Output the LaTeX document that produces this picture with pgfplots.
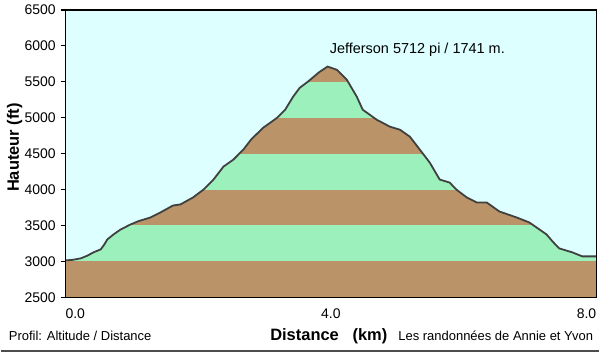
\documentclass[border=0pt]{standalone}
\usepackage{pgfplots}
\pgfplotsset{compat=1.18}
\usepackage{fontspec}
\setmainfont{Liberation Sans}
\definecolor{bgcyan}{RGB}{221,255,255}
\definecolor{bandbrown}{RGB}{187,147,104}
\definecolor{bandgreen}{RGB}{156,240,188}
\definecolor{profline}{RGB}{64,64,64}
\begin{document}
\begin{tikzpicture}
\begin{axis}[
  at={(0pt,0pt)}, anchor=south west,
  scale only axis, width=532pt, height=288pt,
  xmin=0, xmax=8, ymin=2500, ymax=6500,
  axis background/.style={fill=bgcyan},
  axis line style={black, line width=1.5pt},
  ytick={2500,3000,3500,4000,4500,5000,5500,6000,6500},
  xtick={0,4,8},
  xticklabels={\rlap{0.0},4.0,\llap{8.0}},
  ytick pos=left, xtick pos=bottom,
  tick align=outside,
  major tick length=5pt,
  x tick style={draw=none},
  y tick style={black, line width=1.2pt},
  /pgf/number format/assume math mode=true,
  /pgf/number format/1000 sep={},
  yticklabel style={font=\fontsize{14}{14}\selectfont, xshift=-1.5pt},
  xticklabel style={font=\fontsize{14}{14}\selectfont, yshift=-3pt},
  scaled ticks=false,
  axis on top,
]
\addplot[fill=bandbrown, draw=none] coordinates {(0,2500) (8,2500) (8,6500) (0,6500)};
\addplot[fill=bandgreen, draw=none] coordinates {(0,3000) (8,3000) (8,3500) (0,3500)};
\addplot[fill=bandgreen, draw=none] coordinates {(0,4000) (8,4000) (8,4500) (0,4500)};
\addplot[fill=bandgreen, draw=none] coordinates {(0,5000) (8,5000) (8,5500) (0,5500)};
% sky above the profile
\addplot[fill=bgcyan, draw=none] coordinates {
(0.00,3014) (0.10,3020) (0.23,3042) (0.33,3080) (0.42,3125) (0.53,3167) (0.58,3230)
(0.63,3306) (0.73,3380) (0.83,3444) (0.98,3514) (1.10,3560) (1.28,3611) (1.43,3681)
(1.62,3778) (1.73,3792) (1.92,3889) (2.08,4000) (2.23,4139) (2.38,4319) (2.53,4417)
(2.68,4556) (2.80,4700) (2.98,4861) (3.19,5000) (3.31,5111) (3.43,5292) (3.53,5417)
(3.65,5500) (3.83,5639) (3.95,5712) (4.09,5667) (4.24,5528) (4.39,5292) (4.48,5111)
(4.69,4972) (4.89,4875) (5.04,4833) (5.19,4736) (5.34,4556) (5.49,4375) (5.64,4139)
(5.79,4097) (5.89,4000) (6.05,3889) (6.20,3819) (6.35,3819) (6.54,3694) (6.80,3611)
(6.99,3542) (7.10,3472) (7.25,3375) (7.34,3278) (7.44,3181) (7.64,3125) (7.79,3069)
(8.00,3069) (8.00,6500) (0.00,6500)};
% profile line
\addplot[profline, line width=1.8pt] coordinates {
(0.00,3014) (0.10,3020) (0.23,3042) (0.33,3080) (0.42,3125) (0.53,3167) (0.58,3230)
(0.63,3306) (0.73,3380) (0.83,3444) (0.98,3514) (1.10,3560) (1.28,3611) (1.43,3681)
(1.62,3778) (1.73,3792) (1.92,3889) (2.08,4000) (2.23,4139) (2.38,4319) (2.53,4417)
(2.68,4556) (2.80,4700) (2.98,4861) (3.19,5000) (3.31,5111) (3.43,5292) (3.53,5417)
(3.65,5500) (3.83,5639) (3.95,5712) (4.09,5667) (4.24,5528) (4.39,5292) (4.48,5111)
(4.69,4972) (4.89,4875) (5.04,4833) (5.19,4736) (5.34,4556) (5.49,4375) (5.64,4139)
(5.79,4097) (5.89,4000) (6.05,3889) (6.20,3819) (6.35,3819) (6.54,3694) (6.80,3611)
(6.99,3542) (7.10,3472) (7.25,3375) (7.34,3278) (7.44,3181) (7.64,3125) (7.79,3069)
(8.00,3069)};
\node[anchor=west, inner sep=0pt, font=\fontsize{14.5}{15}\selectfont] at (axis cs:3.98,5944) {Jefferson 5712 pi / 1741 m.};
\end{axis}
\node[rotate=90, font=\bfseries\fontsize{16.5}{17}\selectfont] at (-51pt,150pt) {Hauteur (ft)};
\node[anchor=west, inner sep=0pt, font=\fontsize{13}{14}\selectfont] at (-57pt,-39pt) {Profil: Altitude / Distance};
\node[anchor=west, inner sep=0pt, font=\bfseries\fontsize{16.5}{17}\selectfont] at (205pt,-39pt) {Distance\ \ \ (km)};
\node[anchor=east, inner sep=0pt, font=\fontsize{13}{14}\selectfont] at (529pt,-39pt) {Les randonnées de Annie et Yvon};
\draw[gray!60!black, line width=1.5pt] (-65pt,-54pt) -- (535pt,-54pt);
\path (-65pt,-56pt) rectangle (535pt,298pt);
\end{tikzpicture}
\end{document}
